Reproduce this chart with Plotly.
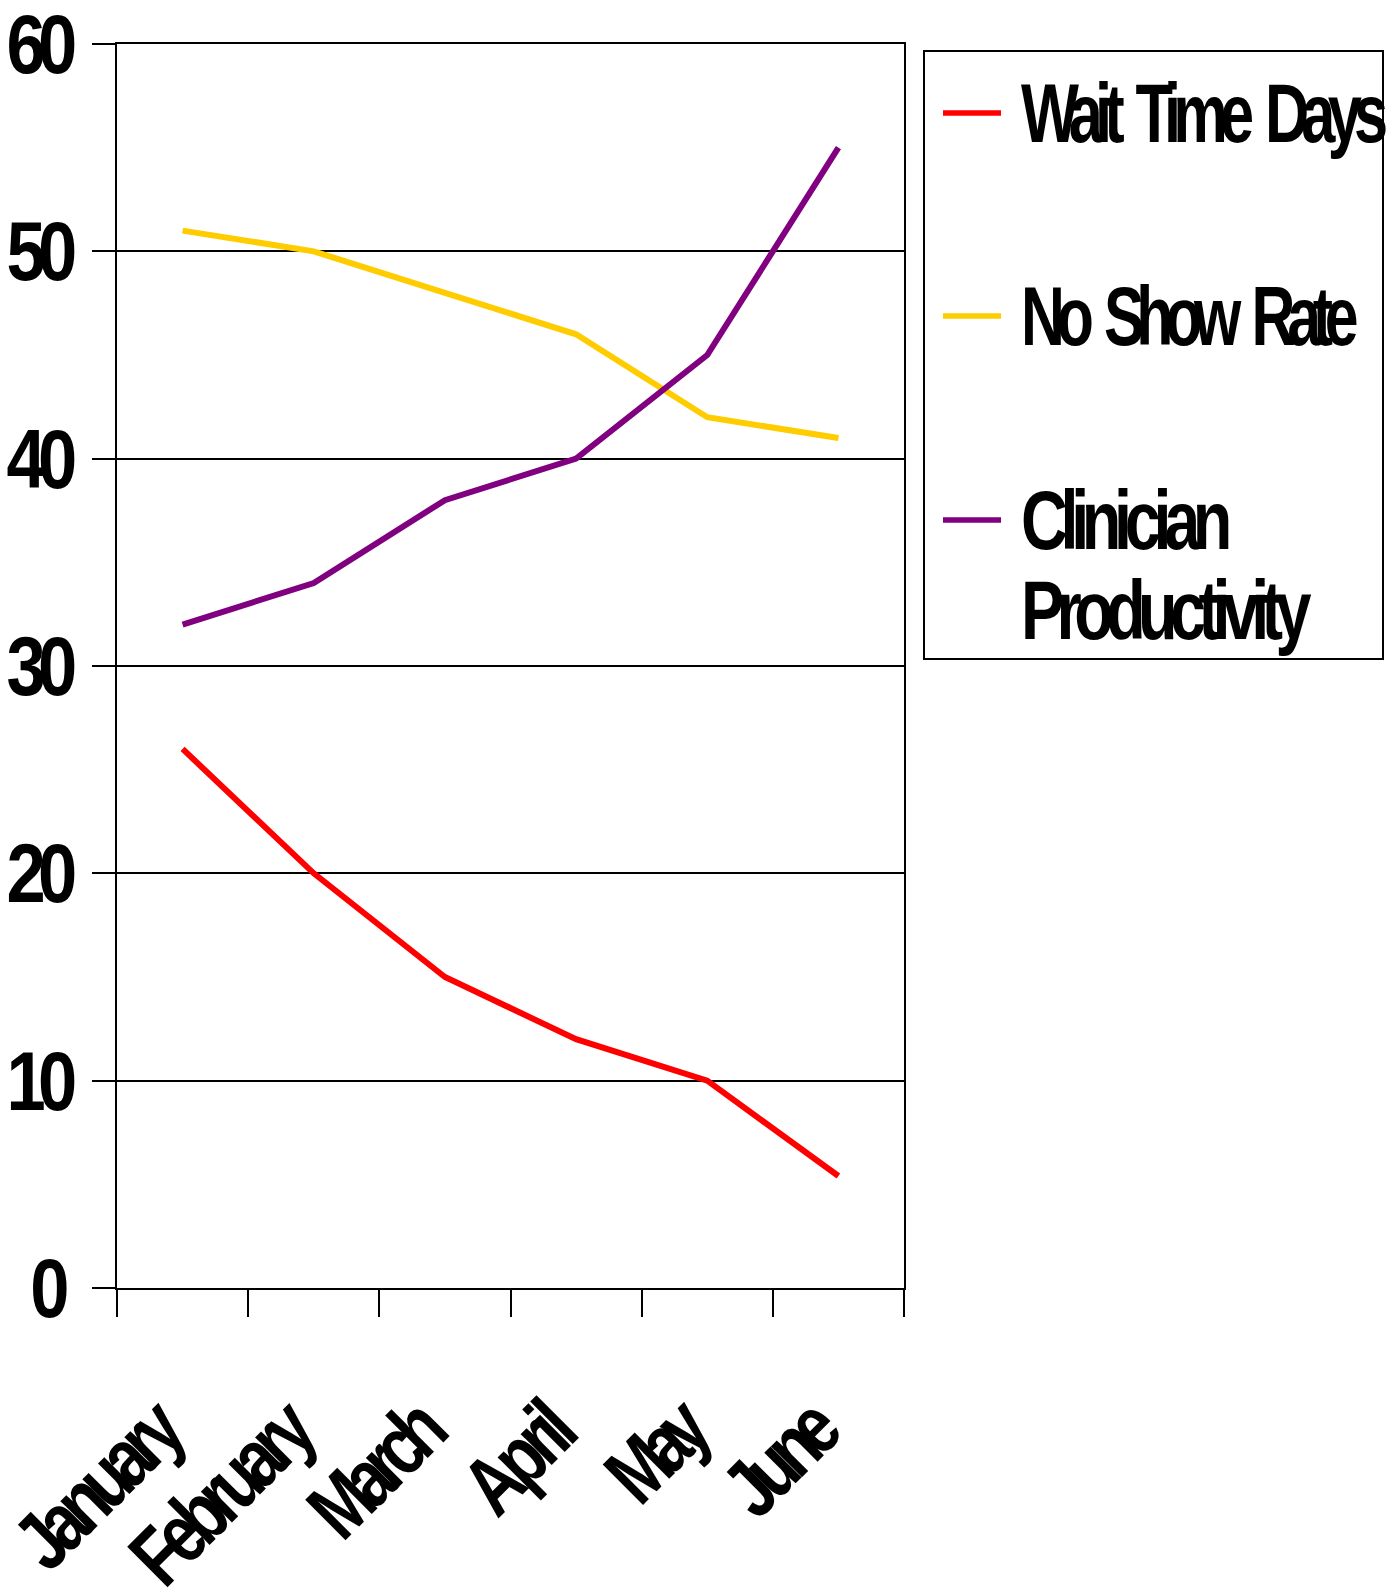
import plotly.graph_objects as go

# Monthly clinic metrics
months = ["January", "February", "March", "April", "May", "June"]
wait_time_days = [26, 20, 15, 12, 10, 5.4]
no_show_rate = [51, 50, 48, 46, 42, 41]
clinician_productivity = [32, 34, 38, 40, 45, 55]

series_names = ["Wait Time Days", "No Show Rate", "Clinician Productivity"]
series_colors = ["#FF0000", "#FFCC00", "#800080"]
series_values = [wait_time_days, no_show_rate, clinician_productivity]

y_ticks = [0, 10, 20, 30, 40, 50, 60]

FONT = "Liberation Sans, Arial, sans-serif"
W, H = 1390, 1590
M_L, M_R, M_T, M_B = 117, 486, 44, 302
PLOT_W = W - M_L - M_R
PLOT_H = H - M_T - M_B


def px_x(x):
    return (x - M_L) / PLOT_W


def px_y(y):
    return 1 - (y - M_T) / PLOT_H


def wrap(label, width=16):
    """Break long legend labels at the first space."""
    if len(label) <= width or " " not in label:
        return [label]
    head, tail = label.split(" ", 1)
    return [head, tail]


fig = go.Figure()
for name, color, vals in zip(series_names, series_colors, series_values):
    fig.add_trace(go.Scatter(
        x=months, y=vals, name=name, mode="lines",
        line=dict(color=color, width=6),
        showlegend=False, hoverinfo="skip",
    ))

# Legend panel: frame, line samples and labels
shapes = [dict(type="rect", xref="paper", yref="paper",
               x0=px_x(924), x1=px_x(1383), y0=px_y(659), y1=px_y(51),
               line=dict(color="black", width=2), fillcolor="rgba(0,0,0,0)")]
annotations = []
entry_y = [113, 316, 520]
line_gap = 91
for name, color, y in zip(series_names, series_colors, entry_y):
    shapes.append(dict(type="line", xref="paper", yref="paper",
                       x0=px_x(943), x1=px_x(1001), y0=px_y(y), y1=px_y(y),
                       line=dict(color=color, width=5.5)))
    for k, txt in enumerate(wrap(name)):
        annotations.append(dict(
            text=txt, xref="paper", yref="paper", x=px_x(1019), y=px_y(y + k * line_gap),
            xanchor="left", yanchor="middle", align="left", showarrow=False,
            font=dict(family=FONT, size=83, color="black", weight="bold"),
        ))

fig.update_layout(
    width=W, height=H,
    margin=dict(l=M_L, r=M_R, t=M_T, b=M_B, autoexpand=False),
    paper_bgcolor="white", plot_bgcolor="white",
    showlegend=False,
    shapes=shapes, annotations=annotations,
    xaxis=dict(
        type="category", range=[-0.5, 5.5], showgrid=False,
        showline=True, linecolor="black", linewidth=2, mirror=True,
        ticks="outside", tickson="boundaries", ticklen=27, tickwidth=2, tickcolor="black",
        tickangle=-45, ticklabelstandoff=62, ticklabelshift=-28,
        tickfont=dict(family=FONT, size=83, color="black", weight="bold"),
        automargin=False, zeroline=False,
    ),
    yaxis=dict(
        range=[0, 60], tickvals=y_ticks, showgrid=True, gridcolor="black", gridwidth=2,
        showline=True, linecolor="black", linewidth=2, mirror=True,
        ticks="outside", ticklen=23, tickwidth=2, tickcolor="black",
        ticklabelstandoff=6, ticklabeloverflow="allow",
        tickfont=dict(family=FONT, size=83, color="black", weight="bold"),
        automargin=False, zeroline=False,
    ),
)

# Condensed lettering: glyphs narrowed by g, overall run tightened to s,
# with word gaps kept partly open
post = """
var gd = document.getElementById('{plot_id}');
function squeeze(sel, s, g) {
  gd.querySelectorAll(sel).forEach(function (t) {
    var parts = t.querySelectorAll('tspan.line');
    var items = parts.length ? Array.prototype.slice.call(parts) : [t];
    items.forEach(function (el) {
      var w = el.getComputedTextLength();
      var n = (el.textContent || '').length;
      var target = n > 1 ? w * s : w * g;
      if (n > 1) {
        var ls = (target / g - w) / n;
        el.style.letterSpacing = ls.toFixed(2) + 'px';
        el.style.wordSpacing = (-1.2 * ls).toFixed(2) + 'px';
      }
      el.setAttribute('textLength', target.toFixed(2));
      el.setAttribute('lengthAdjust', 'spacingAndGlyphs');
    });
  });
}
squeeze('.ytick text', 0.68, 0.85);
squeeze('.xtick text', 0.6, 0.78);
squeeze('text.annotation-text', 0.59, 0.78);
"""

fig.write_html("out.html", post_script=post)
